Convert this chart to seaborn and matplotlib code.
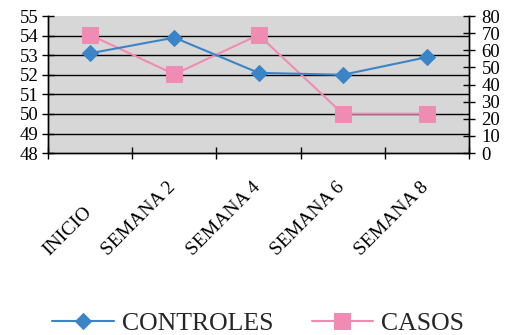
import matplotlib
matplotlib.use("Agg")
import matplotlib.pyplot as plt
import matplotlib.transforms as mtransforms
import seaborn as sns
import pandas as pd
from matplotlib.ticker import FixedLocator, NullFormatter

# Weekly measurements for the two groups
semanas = ["INICIO", "SEMANA 2", "SEMANA 4", "SEMANA 6", "SEMANA 8"]
controles = [53.1, 53.9, 52.1, 52.0, 52.9]
casos = [69, 46, 69, 23, 23]

left_ticks = [48, 49, 50, 51, 52, 53, 54, 55]
right_ticks = [0, 10, 20, 30, 40, 50, 60, 70, 80]

azul = "#3A84C8"
rosa = "#F08CB4"
fondo = "#D7D7D7"

sns.set_theme(style="white")
plt.rcParams["font.family"] = ["Liberation Serif", "DejaVu Serif"]

df = pd.DataFrame({"semana": semanas, "controles": controles, "casos": casos})

fig = plt.figure(figsize=(5.06, 3.35), dpi=100)
ax = fig.add_axes([0.095, 0.543, 0.832, 0.409])
ax2 = ax.twinx()

# grey panel lives on the back axis; the left-scale axis is drawn on top
ax.set_zorder(ax2.get_zorder() + 1)
ax.patch.set_visible(False)
ax2.set_facecolor(fondo)
ax2.patch.set_visible(True)

sns.lineplot(data=df, x="semana", y="controles", ax=ax, color=azul,
             marker="D", markersize=8, markeredgecolor=azul, linewidth=1.5,
             sort=False, label="CONTROLES", legend=False)
sns.lineplot(data=df, x="semana", y="casos", ax=ax2, color=rosa,
             marker="s", markersize=11, markeredgecolor=rosa, linewidth=1.5,
             sort=False, label="CASOS", legend=False)

ax.set_xlim(-0.5, len(semanas) - 0.5)
ax.set_ylim(left_ticks[0], left_ticks[-1])
ax2.set_ylim(right_ticks[0], right_ticks[-1])
ax.set_yticks(left_ticks)
ax2.set_yticks(right_ticks)

# horizontal grid from the left scale, drawn behind both lines
for v in left_ticks[1:-1]:
    y2 = ax2.transData.inverted().transform(ax.transData.transform((0, v)))[1]
    ax2.axhline(y2, color="black", linewidth=1.0, zorder=0.5)

ax.set_xticks(range(len(semanas)))
ax.set_xticklabels(semanas, rotation=45, ha="right", va="bottom", fontsize=14)
ax.tick_params(axis="x", which="major", length=0, pad=76)
shift = mtransforms.ScaledTranslation(5 / 100, 0, fig.dpi_scale_trans)
for t in ax.get_xticklabels():
    t.set_transform(t.get_transform() + shift)
    t.set_color("black")
ax.xaxis.set_minor_locator(FixedLocator([i - 0.5 for i in range(len(semanas) + 1)]))
ax.xaxis.set_minor_formatter(NullFormatter())
ax.tick_params(axis="x", which="minor", length=8, width=1, direction="inout",
               color="black", bottom=True)

ax.tick_params(axis="y", labelsize=13.5, length=8, width=1, direction="inout",
               color="black", pad=3, left=True)
ax2.tick_params(axis="y", labelsize=13.5, length=8, width=1, direction="inout",
                color="black", pad=5, right=True)
for t in ax.get_yticklabels() + ax2.get_yticklabels():
    t.set_color("black")

ax.set_xlabel("")
ax.set_ylabel("")
ax2.set_ylabel("")

for a in (ax, ax2):
    a.spines["top"].set_visible(False)
    for s in ("left", "right", "bottom"):
        a.spines[s].set_color("black")
        a.spines[s].set_linewidth(1)

h1, l1 = ax.get_legend_handles_labels()
h2, l2 = ax2.get_legend_handles_labels()
fig.legend(h1 + h2, l1 + l2, loc="center", bbox_to_anchor=(0.51, 0.035),
           ncol=2, frameon=False, fontsize=18.5, handlelength=2.4,
           columnspacing=1.5, handletextpad=0.3)

fig.savefig("out.png", dpi=100)
